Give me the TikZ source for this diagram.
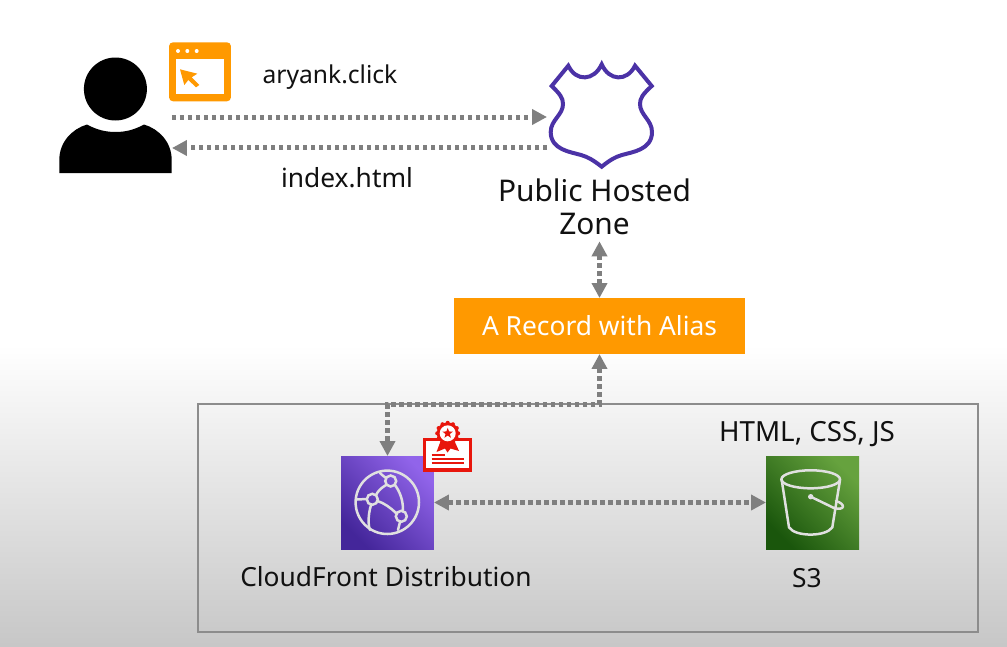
\documentclass[tikz,border=0pt]{standalone}
\usepackage{fontspec}
\setmainfont{Noto Sans}
\usetikzlibrary{arrows.meta,shapes.geometric}
\definecolor{Amber}{HTML}{FF9900}
\definecolor{Shield}{HTML}{4B32A6}
\definecolor{Wire}{HTML}{7F7F7F}
\definecolor{Seal}{HTML}{E8160C}
\definecolor{Ink}{HTML}{111111}
\definecolor{CfDark}{HTML}{44269A}
\definecolor{CfLight}{HTML}{9164EA}
\definecolor{BucketDark}{HTML}{1A560C}
\definecolor{BucketLight}{HTML}{66A23E}
\tikzset{
  flow/.style={Wire,line width=.1cm,dash pattern=on .09cm off .07cm,>={Triangle[length=.3cm,width=.3cm]}},
  label/.style={text=Ink,font=\fontsize{15}{18}\selectfont,inner sep=0pt},
  iconbox/.style={minimum width=1.86cm,minimum height=1.86cm,inner sep=0pt,outer sep=0pt},
  hollow/.style={inner sep=0pt,outer sep=0pt},
  iconline/.style={white!88!black,line width=.05cm,line cap=round},
}
\begin{document}
\begin{tikzpicture}[x=.02cm,y=-.02cm]
    \useasboundingbox (0,0) rectangle (1007,646);
    % page background
    \fill[white] (0,0) rectangle (1007,646);
    \shade[top color=white,bottom color=black!22] (0,345) rectangle (1007,646);

    % frame
    \node[draw=black!45,line width=.04cm,hollow,minimum width=15.6cm,minimum height=4.56cm] (frame) at (588,518) {};

    % nodes
    \node[hollow,minimum width=2.26cm,minimum height=2.32cm] (user) at (115.5,115) {};
    \node[hollow,minimum width=1.24cm,minimum height=1.18cm] (browser) at (200,71.8) {};
    \node[hollow,minimum width=2.14cm,minimum height=2.06cm] (zone) at (600.5,115) {};
    \node[label,font=\fontsize{17}{18.8}\selectfont,align=center] (zonelabel) at (594.5,207) {Public Hosted\\Zone};
    \node[fill=Amber,text=white,hollow,font=\fontsize{15}{18}\selectfont,minimum width=5.82cm,minimum height=1.12cm] (record) at (599.5,326) {A Record with Alias};
    \node[iconbox,left color=CfDark,right color=CfLight,shading angle=135] (cf) at (387.5,502.5) {};
    \node[iconbox,left color=BucketDark,right color=BucketLight,shading angle=135] (s3) at (812.5,502.5) {};
    \node[label,font=\fontsize{14}{18}\selectfont] (sitelabel) at (330,77) {aryank.click};
    \node[label] (pagelabel) at (347,178) {index.html};
    \node[label] (cflabel) at (386,577) {CloudFront Distribution};
    \node[label] (s3label) at (807,578) {S3};
    \node[label,font=\fontsize{15.8}{18}\selectfont] (filelabel) at (807,434) {HTML, CSS, JS};

    % connectors
    \draw[flow,->] ([yshift=-.04cm]user.east)--([yshift=-.04cm]zone.west);
    \draw[flow,->] ([yshift=-.66cm]zone.west)--([yshift=-.66cm]user.east);
    \draw[flow,<->] ([yshift=-.12cm]record.north |- zonelabel.south)--(record.north);
    \draw[flow,<->] (record.south) |- (cf.north |- frame.north)--(cf.north);
    \draw[flow,<->] (cf.east)--(s3.west);

    % person
    \fill[black] (115.4,89) circle (31.5);
    \fill[black] (59.3,173) -- (59.3,160) .. controls (59.3,142) and (72,129) .. (87,124.5) .. controls (97,130) and (106,132) .. (115.7,132) .. controls (125,132) and (134,130) .. (144,124.5) .. controls (159,129) and (171.7,142) .. (171.7,160) -- (171.7,173) -- cycle;

    % browser window
    \fill[Amber,rounded corners=.08cm] (browser.south west) rectangle (browser.north east);
    \fill[white] (176,59) rectangle (224,94.3);
    \foreach \dotx in {178,187.3,196.7} \fill[white] (\dotx,51) circle (2);
    \fill[Amber] (180,69.3) -- (197.3,73.7) -- (191.7,77.3) -- (199.3,85) -- (196,87.3) -- (188.3,80) -- (184.3,85) -- cycle;

    % shield
    \draw[Shield,line width=.08cm,miter limit=6] (568.3,65.7) .. controls (576,82) and (594,81) .. (601.7,64.3) .. controls (609,81) and (627,82) .. (635,65.7) -- (651.7,86) .. controls (643,94) and (640,98) .. (640,104) .. controls (640,115) and (652,120) .. (652,132) .. controls (652,150) and (632,152) .. (622,155) .. controls (615,157) and (610,160) .. (601.7,166.7) .. controls (593,160) and (588,157) .. (581,155) .. controls (571,152) and (550.7,150) .. (550.7,132) .. controls (550.7,120) and (563,115) .. (563,104) .. controls (563,98) and (560,94) .. (551.7,86) -- cycle;

    % cloudfront globe
    \draw[iconline] (387.3,502.3) circle (31.7);
    \draw[iconline] (380,473) .. controls (383,476) and (385,477) .. (386,478);
    \draw[iconline] (395,485) .. controls (400,492) and (403,500) .. (403,510);
    \draw[iconline] (386,485) .. controls (381,488) and (378,491) .. (376,495);
    \draw[iconline] (377.5,501) .. controls (384,503) and (391,508) .. (396,513);
    \draw[iconline] (357,499.5) -- (366.5,499);
    \draw[iconline] (371,505) .. controls (368,515) and (368,525) .. (370,530);
    \draw[iconline] (400,522) -- (398,530);
    \foreach \hubx/\huby in {390.7/481,372.3/499.3,401.3/516.3} \draw[iconline] (\hubx,\huby) circle (5.5);

    % certificate badge
    \draw[Seal,fill=white,line width=.07cm] (424.5,439.5) rectangle (470.5,470);
    \foreach \petal in {0,30,...,330} \fill[Seal] (447.7,433.3) ++(\petal:10.5) circle (2);
    \fill[Seal] (441,440) -- (436.5,452) -- (445,448.5) -- (447.5,452.5) -- (450.5,448.5) -- (459,451) -- (454,440) -- cycle;
    \fill[Seal] (447.7,433.3) circle (11);
    \fill[white] (447.7,433.3) circle (8);
    \node[star,star points=5,star point ratio=2.4,fill=Seal,hollow,minimum size=.22cm] (badgestar) at (447.7,433.3) {};
    \draw[Seal,line width=.03cm] (431.7,455) -- (445,455);
    \draw[Seal,line width=.03cm] (431.7,459) -- (464,459);
    \draw[Seal,line width=.03cm] (431.7,463) -- (464,463);

    % s3 bucket
    \draw[iconline] (810.7,479.3) ellipse (29.3 and 9);
    \draw[iconline] (781.7,480) -- (789,527.3) .. controls (795,537) and (826,537) .. (832.3,527.3) -- (840,480);
    \fill[white!88!black] (810.7,496.7) circle (2.7);
    \draw[iconline] (810.7,496.7) -- (834,508) .. controls (845,511) and (846,504) .. (836,501);
\end{tikzpicture}
\end{document}
